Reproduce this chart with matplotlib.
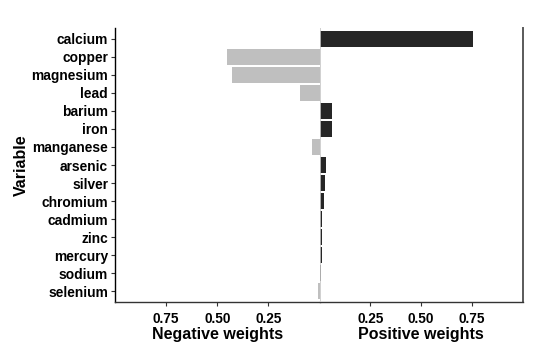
import numpy as np
import matplotlib
matplotlib.use('Agg')
import matplotlib.pyplot as plt

plt.rcParams['font.family'] = ['Liberation Sans', 'DejaVu Sans']
plt.rcParams['font.weight'] = 'bold'

# variables from top to bottom, signed weights
variables = ['calcium', 'copper', 'magnesium', 'lead', 'barium', 'iron', 'manganese',
             'arsenic', 'silver', 'chromium', 'cadmium', 'zinc', 'mercury', 'sodium', 'selenium']
weights = [0.755, -0.45, -0.426, -0.093, 0.059, 0.059, -0.039,
           0.03, 0.025, 0.02, 0.01, 0.01, 0.01, 0.005, -0.006]
tick_vals = [0.25, 0.50, 0.75]
tick_labels = ['0.25', '0.50', '0.75']

w = np.array(weights)
ypos = np.arange(len(variables))
neg = np.where(w < 0, -w, 0)
pos = np.where(w > 0, w, 0)

dark = '#262626'
light = '#bfbfbf'

fig = plt.figure(figsize=(5.4, 3.6), dpi=100)
ax1 = fig.add_axes([0.213, 0.1611, 0.3787, 0.7611])
ax2 = fig.add_axes([0.5917, 0.1611, 0.3763, 0.7611])

ax1.barh(ypos, neg, height=0.9, color=light)
ax2.barh(ypos, pos, height=0.9, color=dark)
ax2.axvline(0, color='#c8c8c8', linewidth=1.2, zorder=3)

for ax in (ax1, ax2):
    ax.set_ylim(len(variables) - 0.4, -0.6)
    ax.set_xticks(tick_vals)
    ax.set_xticklabels(tick_labels, fontsize=9.8, fontweight='bold', color='black')
    ax.tick_params(axis='x', length=3, width=0.8, color='#333333', pad=4)
    ax.spines['top'].set_visible(False)
    ax.spines['bottom'].set_color('#333333')
    ax.spines['bottom'].set_linewidth(1.0)

ax1.set_xlim(1.0, 0)
ax2.set_xlim(0, 1.0)

ax1.spines['right'].set_visible(False)
ax1.spines['left'].set_color('black')
ax1.spines['left'].set_linewidth(1.0)
ax1.set_yticks(ypos)
ax1.set_yticklabels(variables, fontsize=9.9, fontweight='bold', color='black')
ax1.tick_params(axis='y', length=3, width=0.8, color='#333333', pad=2)

ax2.spines['left'].set_visible(False)
ax2.spines['right'].set_color('#5a5a5a')
ax2.spines['right'].set_linewidth(1.4)
ax2.set_yticks([])

ax1.set_xlabel('Negative weights', fontsize=11.5, fontweight='bold', labelpad=1)
ax2.set_xlabel('Positive weights', fontsize=11.5, fontweight='bold', labelpad=1)
ax1.set_ylabel('Variable', fontsize=11.5, fontweight='bold', labelpad=2)

fig.savefig('out.png', dpi=100)
